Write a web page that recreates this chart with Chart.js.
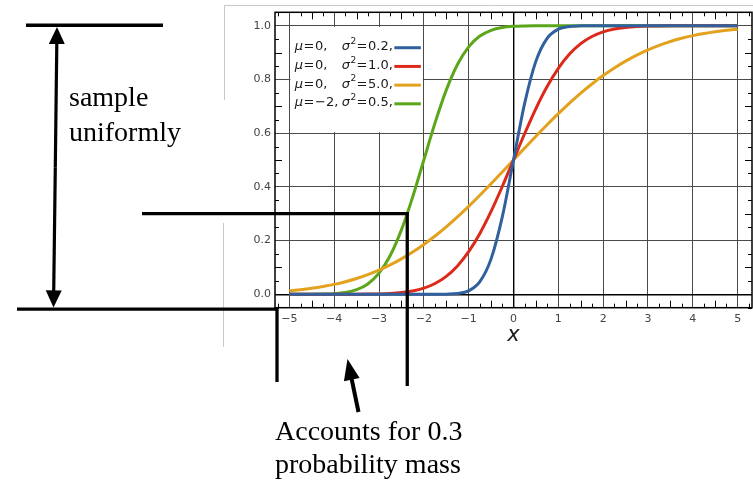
<!DOCTYPE html>
<html>
<head>
<meta charset="utf-8">
<script src="https://cdn.jsdelivr.net/npm/chart.js@4.4.1/dist/chart.umd.min.js"></script>
<style>
  html, body { margin: 0; padding: 0; background: #fff; }
  #wrap { position: relative; width: 753px; height: 481px; overflow: hidden; }
  canvas { position: absolute; left: 0; top: 0; }
  .note { position: absolute; font-family: 'Liberation Serif', 'Times New Roman', serif; font-size: 28px; color: #000; white-space: nowrap; }
</style>
</head>
<body>
<div id="wrap">
  <canvas id="cdfChart" width="753" height="481"></canvas>
  <div class="note" style="left:69px; top:79px; line-height:35px;">sample<br>uniformly</div>
  <div class="note" style="left:275px; top:414px; line-height:33px;">Accounts for 0.3<br>probability mass</div>
</div>
<script>
// ============ Normal CDF with "inverse transform" notes ============

// ---------- data ----------
const xValues = [-5, -4.75, -4.5, -4.25, -4, -3.75, -3.5, -3.25, -3, -2.75, -2.5, -2.25, -2, -1.75, -1.5, -1.25, -1, -0.75, -0.5, -0.25,
    0, 0.25, 0.5, 0.75, 1, 1.25, 1.5, 1.75, 2, 2.25, 2.5, 2.75, 3, 3.25, 3.5, 3.75, 4, 4.25, 4.5, 4.75, 5];

const cdfVar02 = [0, 0, 0, 0, 0, 0, 0, 0, 0, 0, 0, 0, 0, 0, 0.0004, 0.0026, 0.0127, 0.0468, 0.1318, 0.2881,
    0.5, 0.7119, 0.8682, 0.9532, 0.9873, 0.9974, 0.9996, 1, 1, 1, 1, 1, 1, 1, 1, 1, 1, 1, 1, 1, 1];

const cdfVar10 = [0, 0, 0, 0, 0, 0.0001, 0.0002, 0.0006, 0.0013, 0.0030, 0.0062, 0.0122, 0.0228, 0.0401, 0.0668, 0.1056, 0.1587, 0.2266, 0.3085, 0.4013,
    0.5, 0.5987, 0.6915, 0.7734, 0.8413, 0.8944, 0.9332, 0.9599, 0.9772, 0.9878, 0.9938, 0.9970, 0.9987, 0.9994, 0.9998, 0.9999, 1, 1, 1, 1, 1];

const cdfVar50 = [0.0127, 0.0168, 0.0221, 0.0287, 0.0368, 0.0468, 0.0588, 0.0731, 0.0899, 0.1094, 0.1318, 0.1572, 0.1856, 0.2169, 0.2511, 0.2881, 0.3274, 0.3687, 0.4115, 0.4555,
    0.5, 0.5445, 0.5885, 0.6313, 0.6726, 0.7119, 0.7489, 0.7831, 0.8144, 0.8428, 0.8682, 0.8906, 0.9101, 0.9269, 0.9412, 0.9532, 0.9632, 0.9713, 0.9779, 0.9832, 0.9873];

const cdfShifted = [0, 0.0001, 0.0002, 0.0007, 0.0023, 0.0067, 0.0170, 0.0385, 0.0786, 0.1444, 0.2398, 0.3618, 0.5, 0.6382, 0.7602, 0.8556, 0.9214, 0.9615, 0.9830, 0.9933,
    0.9977, 0.9993, 0.9998, 0.9999, 1, 1, 1, 1, 1, 1, 1, 1, 1, 1, 1, 1, 1, 1, 1, 1, 1];

const seriesMu = [0, 0, 0, -2];
const seriesVar = [0.2, 1.0, 5.0, 0.5];
const seriesColors = ['#31609f', '#dc2a1a', '#e3a21e', '#5ba61a'];

const xTicks = [-5, -4, -3, -2, -1, 0, 1, 2, 3, 4, 5];
const yTicks = [0, 0.2, 0.4, 0.6, 0.8, 1.0];

// the 0.3 probability mass marker
const massProb = 0.3;
const massX = -2.37;

const LABEL_FONT = 'DejaVu Sans';

function fmtMinus(v) {
    return v < 0 ? '\u2212' + Math.abs(v) : String(v);
}

function line(ctx, x1, y1, x2, y2) {
    ctx.beginPath();
    ctx.moveTo(x1, y1);
    ctx.lineTo(x2, y2);
    ctx.stroke();
}

// filled arrow: shaft from tail to tip, triangle head at tip
function arrow(ctx, tx, ty, hx, hy, headLen, headHalf, shaft) {
    const ang = Math.atan2(hy - ty, hx - tx);
    const bx = hx - Math.cos(ang) * headLen;
    const by = hy - Math.sin(ang) * headLen;
    ctx.lineWidth = shaft;
    line(ctx, tx, ty, bx + Math.cos(ang) * 2, by + Math.sin(ang) * 2);
    ctx.beginPath();
    ctx.moveTo(hx, hy);
    ctx.lineTo(bx - Math.sin(ang) * headHalf, by + Math.cos(ang) * headHalf);
    ctx.lineTo(bx + Math.sin(ang) * headHalf, by - Math.cos(ang) * headHalf);
    ctx.closePath();
    ctx.fill();
}

// text pieces drawn left to right, returns end x
function drawRuns(ctx, runs, x, y) {
    runs.forEach(r => {
        ctx.font = r.font;
        ctx.fillText(r.text, x, y + (r.dy || 0));
        x += ctx.measureText(r.text).width + (r.gap || 0);
    });
    return x;
}

// ---------- plot decorations ----------
const decorations = {
    id: 'decorations',
    beforeDraw(chart) {
        // faint border of the pasted figure
        const ctx = chart.ctx;
        ctx.save();
        ctx.strokeStyle = '#c9c9c9';
        ctx.lineWidth = 1;
        line(ctx, 224, 5.5, 753, 5.5);
        line(ctx, 224.5, 5.5, 224.5, 100);
        line(ctx, 223.5, 223, 223.5, 347);
        ctx.restore();
    },
    beforeDatasetsDraw(chart) {
        // legend panel covers the grid
        const ctx = chart.ctx;
        const xs = chart.scales.x, ys = chart.scales.y;
        const l = xs.getPixelForValue(-5) + 1, r = xs.getPixelForValue(-2) - 1;
        const t = ys.getPixelForValue(1) + 1, b = ys.getPixelForValue(0.6) - 1;
        ctx.save();
        ctx.fillStyle = '#fff';
        ctx.fillRect(l, t, r - l, b - t);
        ctx.restore();
    },
    afterDatasetsDraw(chart) {
        const ctx = chart.ctx;
        const { left, right, top, bottom } = chart.chartArea;
        const xs = chart.scales.x, ys = chart.scales.y;
        ctx.save();

        // minor ticks, pointing inward
        ctx.strokeStyle = '#000';
        ctx.lineWidth = 1;
        for (let k = -21; k <= 21; k++) {
            if (k % 4 === 0) continue;
            const px = Math.round(xs.getPixelForValue(k * 0.25)) + 0.5;
            const len = k % 2 === 0 ? 7 : 4;
            line(ctx, px, top, px, top + len);
            line(ctx, px, bottom, px, bottom - len);
        }
        for (let k = -1; k <= 21; k++) {
            if (k % 4 === 0) continue;
            const py = Math.round(ys.getPixelForValue(k * 0.05)) + 0.5;
            const len = k % 2 === 0 ? 7 : 4;
            line(ctx, left, py, left + len, py);
            line(ctx, right, py, right - len, py);
        }

        // frame
        ctx.lineWidth = 1.5;
        ctx.strokeRect(left, top, right - left, bottom - top);

        // legend
        const x0 = xs.getPixelForValue(-5);
        const rowY0 = ys.getPixelForValue(1) + 21;
        const it = 'italic 13px "' + LABEL_FONT + '"';
        const rm = '13px "' + LABEL_FONT + '"';
        const sup = '9px "' + LABEL_FONT + '"';
        ctx.fillStyle = '#1a1a1a';
        ctx.textBaseline = 'middle';
        ctx.textAlign = 'left';
        seriesMu.forEach((mu, i) => {
            const y = rowY0 + i * 18.7;
            drawRuns(ctx, [
                { text: '\u03bc', font: it, gap: 0.5 },
                { text: '=', font: rm, gap: 0.5 },
                { text: fmtMinus(mu) + ',', font: rm }
            ], x0 + 5.5, y);
            drawRuns(ctx, [
                { text: '\u03c3', font: it, gap: 0.5 },
                { text: '2', font: sup, dy: -5, gap: 0.3 },
                { text: '=', font: rm, gap: 0.5 },
                { text: seriesVar[i].toFixed(1) + ',', font: rm }
            ], x0 + 52.5, y);

            ctx.strokeStyle = seriesColors[i];
            ctx.lineWidth = 3;
            line(ctx, x0 + 105, y + 1, x0 + 131.5, y + 1);
        });
        ctx.restore();
    },
    afterDraw(chart) {
        // hand-drawn style annotation lines and arrows
        const ctx = chart.ctx;
        const { left, bottom } = chart.chartArea;
        const xs = chart.scales.x, ys = chart.scales.y;
        const yTop = ys.getPixelForValue(1) - 0.5;
        const yMass = ys.getPixelForValue(massProb);
        const xMass = xs.getPixelForValue(massX);
        const yBase = bottom + 1.5;

        ctx.save();
        ctx.strokeStyle = '#000';
        ctx.fillStyle = '#000';
        ctx.lineCap = 'butt';
        ctx.lineWidth = 3.3;
        line(ctx, 26, yTop, 163, yTop);
        line(ctx, 17, yBase, left + 2, yBase);
        line(ctx, left + 2, yBase - 1.6, left + 2, 382);
        line(ctx, 142, yMass, xMass + 1.6, yMass);
        line(ctx, xMass, yMass - 1.6, xMass, 386);

        // double arrow for the sampled range
        const midX = 55.3, midY = (yTop + yBase) / 2;
        arrow(ctx, midX, midY, 57, yTop + 1.8, 17, 8, 3.2);
        arrow(ctx, midX, midY, 53.5, yBase - 1.8, 17, 8, 3.2);

        // pointer to the mass region
        arrow(ctx, 358.5, 412, 347.5, 359, 21, 8, 4);
        ctx.restore();
    }
};

// ---------- chart ----------
const gridColor = (c) => c.tick && c.tick.value === 0 ? '#000' : '#4a4a4a';
const gridWidth = (c) => c.tick && c.tick.value === 0 ? 1.4 : 1;

const cdfSeries = [cdfVar02, cdfVar10, cdfVar50, cdfShifted];

new Chart(document.getElementById('cdfChart'), {
    type: 'line',
    data: {
        datasets: cdfSeries.map((vals, i) => ({
            label: 'mu=' + seriesMu[i] + ', var=' + seriesVar[i],
            data: xValues.map((x, j) => ({ x, y: vals[j] })),
            borderColor: seriesColors[i],
            borderWidth: 3,
            pointRadius: 0,
            cubicInterpolationMode: 'monotone',
            fill: false,
        }))
    },
    options: {
        responsive: false,
        animation: false,
        devicePixelRatio: 1,
        layout: { padding: { left: 245, right: 1, top: 12.3, bottom: 133.3 } },
        plugins: {
            legend: { display: false },
            tooltip: { enabled: false }
        },
        scales: {
            x: {
                type: 'linear',
                min: -5.32,
                max: 5.32,
                bounds: 'data',
                afterBuildTicks: (s) => { s.ticks = xTicks.map(v => ({ value: v })); },
                afterFit: (s) => { s.height = 40; },
                ticks: {
                    font: { family: LABEL_FONT, size: 11 },
                    color: '#444',
                    padding: 5,
                    maxRotation: 0,
                    autoSkip: false,
                    callback: (v) => fmtMinus(v)
                },
                grid: { color: gridColor, lineWidth: gridWidth, drawTicks: false },
                border: { display: false },
                title: {
                    display: true,
                    text: 'x',
                    color: '#1a1a1a',
                    font: { family: LABEL_FONT, style: 'italic', size: 21 },
                    padding: { top: 0, bottom: 0 }
                }
            },
            y: {
                min: -0.05,
                max: 1.05,
                bounds: 'data',
                afterBuildTicks: (s) => { s.ticks = yTicks.map(v => ({ value: v })); },
                afterFit: (s) => { s.width = 30; },
                ticks: {
                    font: { family: LABEL_FONT, size: 11 },
                    color: '#444',
                    padding: 4,
                    callback: (v) => Number(v).toFixed(1)
                },
                grid: { color: gridColor, lineWidth: gridWidth, drawTicks: false },
                border: { display: false }
            }
        }
    },
    plugins: [decorations]
});
</script>
</body>
</html>
